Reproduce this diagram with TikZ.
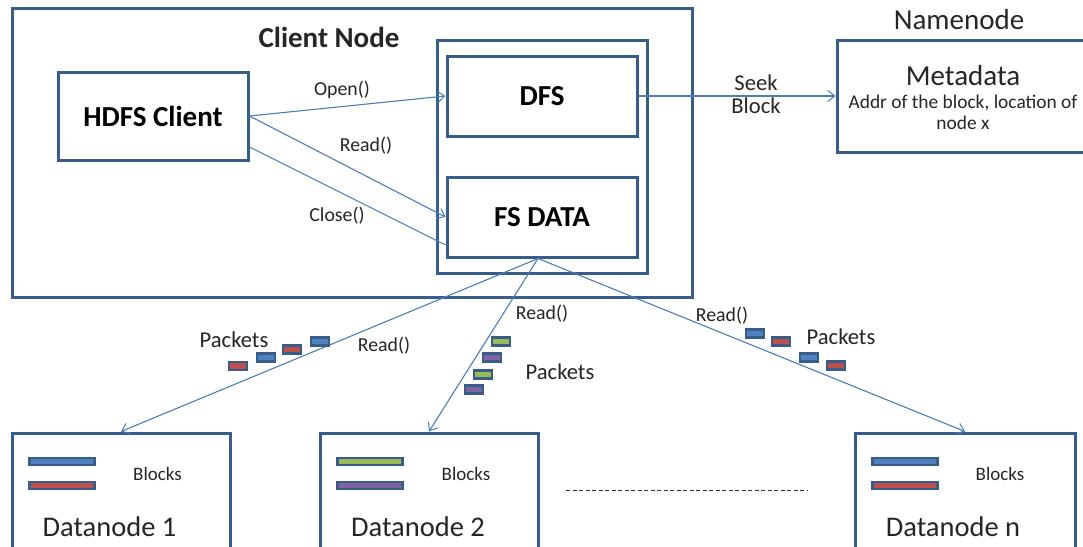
\documentclass[tikz,border=0pt]{standalone}
\usepackage{fontspec}
\setmainfont{Carlito}
\usetikzlibrary{arrows.meta,calc}
\definecolor{boxline}{RGB}{56,93,138}
\definecolor{arrowline}{RGB}{74,126,187}
\definecolor{pblue}{RGB}{79,129,189}
\definecolor{pred}{RGB}{192,80,77}
\definecolor{pgreen}{RGB}{155,187,89}
\definecolor{ppurple}{RGB}{128,100,162}
\newcommand{\fsz}[1]{\fontsize{#1}{#1}\selectfont}
\tikzset{
  frame/.style={draw=boxline, line width=3pt, rectangle, inner sep=0pt, fill=white},
  link/.style={draw=arrowline, line width=1.1pt},
  tip/.style={-{Straight Barb[length=7pt,width=11pt,line width=1pt]}},
  lbl/.style={inner sep=0pt, text=black!85},
  pkt/.style={draw=boxline, line width=2.5pt, rectangle, inner sep=0pt, minimum width=18pt, minimum height=8pt, fill=#1},
  bar/.style={draw=boxline, line width=2.5pt, rectangle, inner sep=0pt, minimum width=65pt, minimum height=7pt, fill=#1},
}
\begin{document}
\begin{tikzpicture}[x=1pt,y=-1pt]
\useasboundingbox (0,0) rectangle (1083,546);
\fill[white] (0,0) rectangle (1083,546);

% client node with its two inner components
\node[frame, minimum width=680pt, minimum height=289pt] (client) at (352,152.5) {};
\node[lbl, font=\fsz{29}\bfseries] (clientlbl) at (329,37) {Client Node};
\node[frame, minimum width=190pt, minimum height=88pt, font=\fsz{29}\bfseries] (hc) at (153,116) {HDFS Client};
\node[frame, minimum width=210pt, minimum height=233pt] (inner) at (542,156.5) {};
\node[frame, minimum width=190pt, minimum height=80pt, font=\fsz{29}\bfseries] (dfs) at (542,96) {DFS};
\node[frame, minimum width=190pt, minimum height=80pt, font=\fsz{29}\bfseries] (fs) at (542,217) {FS DATA};

% namenode
\node[lbl, font=\fsz{29}] (nnlbl) at (959,20) {Namenode};
\node[frame, minimum width=253pt, minimum height=112pt] (meta) at (963.5,96) {};
\node[lbl, font=\fsz{29}] (metalbl) at (963,76) {Metadata};
\node[lbl, font=\fsz{19.4}, align=center] (addr) at (963,112.5) {Addr of the block, location of\\[1pt]node x};

% datanodes
\node[frame, minimum width=218pt, minimum height=126pt] (dn1) at (121,496) {};
\node[frame, minimum width=218pt, minimum height=126pt] (dn2) at (429,496) {};
\node[frame, minimum width=220pt, minimum height=126pt] (dnn) at (965,496) {};

\node[bar=pblue] (b1a) at (62,461.5) {};
\node[bar=pred] (b1b) at (62,485.5) {};
\node[lbl, font=\fsz{19}] (bl1) at (157.5,474) {Blocks};
\node[lbl, font=\fsz{28.5}] (d1) at (109.5,527) {Datanode 1};

\node[bar=pgreen] (b2a) at (370,461.5) {};
\node[bar=ppurple] (b2b) at (370,485.5) {};
\node[lbl, font=\fsz{19}] (bl2) at (466,474) {Blocks};
\node[lbl, font=\fsz{28.5}] (d2) at (418,527) {Datanode 2};

\node[bar=pblue] (bna) at (905,461.5) {};
\node[bar=pred] (bnb) at (905,485.5) {};
\node[lbl, font=\fsz{19}] (bln) at (1000,474) {Blocks};
\node[lbl, font=\fsz{28.5}] (dn) at (953,527) {Datanode n};

\draw[black!80, line width=0.8pt, dash pattern=on 4pt off 2.5pt] (566,490) -- (808,490);

% client calls
\draw[link, tip] (hc.east) -- (dfs.west);
\draw[link, tip] (hc.east) -- (fs.west);
\draw[link] ([yshift=-31pt]hc.east) -- ([yshift=-28pt]fs.west);
\node[lbl, font=\fsz{19.8}] (openlbl) at (342,90) {Open()};
\node[lbl, font=\fsz{19.8}] (readlbl) at (366,146) {Read()};
\node[lbl, font=\fsz{19.8}] (closelbl) at (337,216) {Close()};

% block lookup
\draw[link, tip] (dfs.east) -- (meta.west);
\node[lbl, font=\fsz{22.6}, align=center] (seek) at (756,94) {Seek\\[0pt]Block};

% reads from the datanodes
\coordinate (fsout) at ([xshift=-4pt]fs.south);
\draw[link, tip] (fsout) -- (dn1.north);
\draw[link, tip] (fsout) -- (dn2.north);
\draw[link, tip] (fsout) -- (dnn.north);
\node[lbl, font=\fsz{19.8}] (r1) at (384,346) {Read()};
\node[lbl, font=\fsz{19.8}] (r2) at (542,314) {Read()};
\node[lbl, font=\fsz{19.8}] (r3) at (722,316) {Read()};

% packets in flight
\node[lbl, font=\fsz{22.6}] (pk1) at (234,340) {Packets};
\node[pkt=pred] (p11) at (238,366) {};
\node[pkt=pblue] (p12) at (266,357.5) {};
\node[pkt=pred] (p13) at (292,349.5) {};
\node[pkt=pblue] (p14) at (320,341.5) {};

\node[lbl, font=\fsz{22.6}] (pk2) at (560,372) {Packets};
\node[pkt=pgreen] (p21) at (501,341.5) {};
\node[pkt=ppurple] (p22) at (492,357.5) {};
\node[pkt=pgreen] (p23) at (483,374.5) {};
\node[pkt=ppurple] (p24) at (474,389.5) {};

\node[lbl, font=\fsz{22.6}] (pk3) at (841,337) {Packets};
\node[pkt=pblue] (p31) at (755,333.5) {};
\node[pkt=pred] (p32) at (781,341.5) {};
\node[pkt=pblue] (p33) at (809,357.5) {};
\node[pkt=pred] (p34) at (836,365.5) {};
\end{tikzpicture}
\end{document}
